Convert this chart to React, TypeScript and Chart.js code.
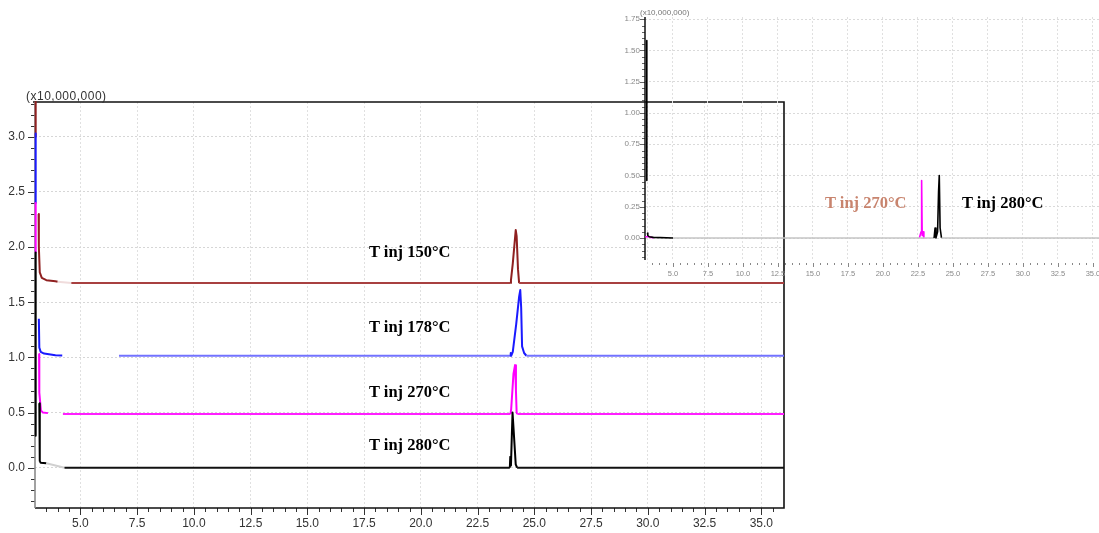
import React, { useEffect, useRef } from "react";
import { Chart, registerables } from "chart.js";

Chart.register(...registerables);

// ---------- main chart data (retention time in min, intensity in x10,000,000) ----------
const mainXTicks = [5.0, 7.5, 10.0, 12.5, 15.0, 17.5, 20.0, 22.5, 25.0, 27.5, 30.0, 32.5, 35.0];
const mainYTicks = [0.0, 0.5, 1.0, 1.5, 2.0, 2.5, 3.0];

// T inj 150 °C
const t150 = [3.03, 3.03, 3.1, 3.16, 3.17, 3.21, 3.3, 3.5, 3.9, 4.0, 4.6, 23.95, 23.97, 24.05, 24.18, 24.22, 24.28, 24.33, 36.0];
const v150 = [3.315, 3.0, null, 2.3, 2.0, 1.77, 1.72, 1.7, 1.69, 1.685, 1.674, 1.674, 1.7, 1.85, 2.155, 2.1, 1.8, 1.674, 1.674];

// T inj 178 °C
const t178 = [3.03, 3.03, 3.1, 3.17, 3.19, 3.25, 3.4, 3.9, 4.2, 5.0, 6.7, 23.93, 23.96, 23.98, 24.05, 24.2, 24.33, 24.38, 24.42, 24.46, 24.55, 24.65, 36.0];
const v178 = [3.03, 2.4, null, 1.35, 1.09, 1.05, 1.035, 1.02, 1.017, null, 1.015, 1.015, 1.04, 1.015, 1.05, 1.3, 1.55, 1.61, 1.45, 1.1, 1.04, 1.015, 1.015];

// T inj 270 °C
const t270 = [3.03, 3.03, 3.1, 3.18, 3.19, 3.26, 3.35, 3.57, 3.9, 4.23, 23.95, 23.98, 24.08, 24.15, 24.19, 24.22, 24.25, 36.0];
const v270 = [2.4, 1.95, null, 1.03, 0.68, 0.52, 0.5, 0.495, null, 0.487, 0.487, 0.53, 0.85, 0.93, 0.7, 0.5, 0.487, 0.487];

// T inj 280 °C
const t280 = [3.03, 3.03, 3.1, 3.19, 3.2, 3.22, 3.25, 3.5, 4.3, 23.92, 23.94, 23.97, 24.01, 24.04, 24.1, 24.18, 24.24, 36.0];
const v280 = [1.95, 0.29, null, 0.585, 0.22, 0.06, 0.045, 0.04, 0.0, 0.0, 0.1, 0.02, 0.3, 0.5, 0.3, 0.03, 0.0, 0.0];

// washed-out stretches of each trace, [from, to] in minutes
const faint150 = [4.0, 4.6];
const faint178 = [4.2, 6.7];
const faint270 = [3.57, 4.23];
const faint280 = [3.5, 4.3];

// ---------- inset chart data ----------
const insetXTicks = [5.0, 7.5, 10.0, 12.5, 15.0, 17.5, 20.0, 22.5, 25.0, 27.5, 30.0, 32.5, 35.0];
const insetYTicks = [0.0, 0.25, 0.5, 0.75, 1.0, 1.25, 1.5, 1.75];

const tIns280 = [3.12, 3.13, 3.15, 3.18, 3.2, 3.3, 3.6, 5.0, 23.65, 23.72, 23.78, 23.9, 23.97, 24.02, 24.08, 24.12, 24.18, 35.6];
const vIns280 = [1.58, 0.46, null, 0.04, 0.02, 0.01, 0.005, 0.0, 0.0, 0.08, 0.0, 0.05, 0.37, 0.5, 0.08, 0.08, 0.0, 0.0];

const tIns270 = [3.02, 3.3, 3.6, 10.0, 22.6, 22.72, 22.76, 22.8, 22.86, 22.92];
const vIns270 = [0.01, 0.01, 0.0, null, 0.0, 0.05, 0.46, 0.02, 0.05, 0.0];

type Pt = { x: number; y: number | null };

function series(
  t: number[],
  v: (number | null)[],
  color: string,
  baseColor: string,
  base: number,
  faint: number[],
  faintColor: string,
  width = 1.8
) {
  const data: Pt[] = t.map((x, i) => ({ x, y: v[i] }));
  return {
    data,
    showLine: true,
    pointRadius: 0,
    borderWidth: width,
    borderColor: color,
    borderJoinStyle: "round",
    borderCapStyle: "butt",
    spanGaps: false,
    clip: false,
    segment: {
      borderColor: (c: any) => {
        const x0 = c.p0.parsed.x;
        const x1 = c.p1.parsed.x;
        if (faint.length === 2 && x0 >= faint[0] - 1e-9 && x1 <= faint[1] + 1e-9) return faintColor;
        if (Math.abs(c.p0.parsed.y - base) < 1e-6 && Math.abs(c.p1.parsed.y - base) < 1e-6) return baseColor;
        return color;
      },
    },
  };
}

const sansFont = "'Liberation Sans', Arial, sans-serif";

const mainAxesPlugin = {
  id: "mainAxes",
  beforeDatasetsDraw(chart: any) {
    const { ctx, chartArea: a, scales } = chart;
    const x = scales.x;
    const y = scales.y;
    ctx.save();
    ctx.strokeStyle = "#333";
    ctx.lineWidth = 1;
    for (let k = -3; k <= 33; k++) {
      const py = Math.round(y.getPixelForValue(k / 10)) + 0.5;
      if (py < a.top || py > a.bottom) continue;
      const major = k % 5 === 0;
      ctx.beginPath();
      ctx.moveTo(a.left - (major ? 7 : 4), py);
      ctx.lineTo(a.left, py);
      ctx.stroke();
    }
    for (let k = 7; k <= 72; k++) {
      const px = Math.round(x.getPixelForValue(k / 2)) + 0.5;
      if (px < a.left || px > a.right) continue;
      const major = k % 5 === 0;
      ctx.beginPath();
      ctx.moveTo(px, a.bottom);
      ctx.lineTo(px, a.bottom + (major ? 7 : 4));
      ctx.stroke();
    }
    ctx.lineWidth = 1.6;
    ctx.strokeStyle = "#111";
    ctx.beginPath();
    ctx.moveTo(a.left - 2, a.top);
    ctx.lineTo(a.right, a.top);
    ctx.lineTo(a.right, a.bottom);
    ctx.lineTo(a.left, a.bottom);
    ctx.stroke();
    ctx.strokeStyle = "#8a8a8a";
    ctx.beginPath();
    ctx.moveTo(a.left, a.top);
    ctx.lineTo(a.left, a.bottom);
    ctx.stroke();
    ctx.restore();
  },
};

const insetAxesPlugin = {
  id: "insetAxes",
  beforeDatasetsDraw(chart: any) {
    const { ctx, chartArea: a, scales } = chart;
    const x = scales.x;
    const y = scales.y;
    ctx.save();
    ctx.strokeStyle = "#666";
    ctx.lineWidth = 1;
    for (let k = -3; k <= 35; k++) {
      const py = Math.round(y.getPixelForValue(k / 20)) + 0.5;
      if (py < a.top - 1 || py > a.bottom) continue;
      const major = k % 5 === 0;
      ctx.beginPath();
      ctx.moveTo(a.left - (major ? 5 : 3), py);
      ctx.lineTo(a.left, py);
      ctx.stroke();
    }
    ctx.fillStyle = "#888";
    for (let k = 7; k <= 71; k++) {
      const px = Math.round(x.getPixelForValue(k / 2));
      if (px < a.left || px > a.right) continue;
      const major = k % 5 === 0;
      ctx.fillRect(px, a.bottom + 3, 1, major ? 4 : 2);
    }
    ctx.strokeStyle = "#111";
    ctx.lineWidth = 1.5;
    ctx.beginPath();
    ctx.moveTo(a.left, a.top);
    ctx.lineTo(a.left, a.bottom);
    ctx.stroke();
    ctx.restore();
  },
};

function MainChart() {
  const ref = useRef<HTMLCanvasElement | null>(null);
  useEffect(() => {
    if (!ref.current) return;
    const chart = new Chart(ref.current, {
      type: "scatter",
      data: {
        datasets: [
          series(t280, v280, "#000000", "#111111", 0.0, faint280, "#d0d0d0", 2),
          series(t270, v270, "#ff00ff", "#ff1fff", 0.487, faint270, "#ffe6ff", 2),
          series(t178, v178, "#1a1aff", "#7272ff", 1.015, faint178, "#e8e8ff", 2),
          series(t150, v150, "#8f2020", "#a84040", 1.674, faint150, "#f0dcdc", 2),
        ] as any,
      },
      options: {
        animation: false,
        responsive: false,
        maintainAspectRatio: false,
        events: [],
        layout: { padding: { left: 0, top: 102, right: 315, bottom: 0 } },
        plugins: { legend: { display: false }, tooltip: { enabled: false } },
        scales: {
          x: {
            type: "linear",
            min: 3.0,
            max: 36.0,
            afterBuildTicks: (s: any) => {
              s.ticks = mainXTicks.map((v) => ({ value: v }));
            },
            afterFit: (s: any) => {
              s.height = 25;
              s.paddingLeft = 0;
              s.paddingRight = 0;
            },
            grid: { color: "#e0e0e0", lineWidth: 1, drawTicks: false },
            border: { display: false, dash: [2, 2] },
            ticks: {
              padding: 8,
              color: "#333",
              autoSkip: false,
              maxRotation: 0,
              font: { family: sansFont, size: 12 },
              callback: (v: any) => Number(v).toFixed(1),
            },
          },
          y: {
            type: "linear",
            min: -0.365,
            max: 3.315,
            afterBuildTicks: (s: any) => {
              s.ticks = mainYTicks.map((v) => ({ value: v }));
            },
            afterFit: (s: any) => {
              s.width = 35;
              s.paddingTop = 0;
              s.paddingBottom = 0;
            },
            grid: { color: "#d6d6d6", lineWidth: 1, drawTicks: false },
            border: { display: false, dash: [2, 2] },
            ticks: {
              padding: 10,
              color: "#333",
              autoSkip: false,
              font: { family: sansFont, size: 12 },
              callback: (v: any) => Number(v).toFixed(1),
            },
          },
        },
      } as any,
      plugins: [mainAxesPlugin],
    });
    return () => chart.destroy();
  }, []);
  return (
    <canvas
      ref={ref}
      width={1099}
      height={533}
      style={{ position: "absolute", left: 0, top: 0, width: 1099, height: 533 }}
    />
  );
}

function InsetChart() {
  const ref = useRef<HTMLCanvasElement | null>(null);
  useEffect(() => {
    if (!ref.current) return;
    const chart = new Chart(ref.current, {
      type: "scatter",
      data: {
        datasets: [
          {
            ...series(tIns280, vIns280, "#000000", "#c4c4c4", 0.0, [], "#c4c4c4", 1.6),
            segment: {
              borderColor: (c: any) =>
                c.p0.parsed.x >= 5.0 && c.p0.parsed.y === 0 && c.p1.parsed.y === 0 ? "#c4c4c4" : "#000000",
            },
          },
          series(tIns270, vIns270, "#ff00ff", "#ff80ff", 0.0, [], "#ff80ff", 1.6),
        ] as any,
      },
      options: {
        animation: false,
        responsive: false,
        maintainAspectRatio: false,
        events: [],
        layout: { padding: { left: 0, top: 17, right: 0, bottom: 0 } },
        plugins: { legend: { display: false }, tooltip: { enabled: false } },
        scales: {
          x: {
            type: "linear",
            min: 3.0,
            max: 35.43,
            afterBuildTicks: (s: any) => {
              s.ticks = insetXTicks.map((v) => ({ value: v }));
            },
            afterFit: (s: any) => {
              s.height = 30;
              s.paddingLeft = 0;
              s.paddingRight = 0;
            },
            grid: { color: "#e0e0e0", lineWidth: 1, drawTicks: false },
            border: { display: false, dash: [2, 2] },
            ticks: {
              padding: 9,
              color: "#888",
              autoSkip: false,
              maxRotation: 0,
              font: { family: sansFont, size: 7.5 },
              callback: (v: any) => Number(v).toFixed(1),
            },
          },
          y: {
            type: "linear",
            min: -0.176,
            max: 1.768,
            afterBuildTicks: (s: any) => {
              s.ticks = insetYTicks.map((v) => ({ value: v }));
            },
            afterFit: (s: any) => {
              s.width = 45;
              s.paddingTop = 0;
              s.paddingBottom = 0;
            },
            grid: { color: "#dadada", lineWidth: 1, drawTicks: false },
            border: { display: false, dash: [2, 2] },
            ticks: {
              padding: 5,
              color: "#888",
              autoSkip: false,
              font: { family: sansFont, size: 8 },
              callback: (v: any) => Number(v).toFixed(2),
            },
          },
        },
      } as any,
      plugins: [insetAxesPlugin],
    });
    return () => chart.destroy();
  }, []);
  return (
    <canvas
      ref={ref}
      width={499}
      height={290}
      style={{ position: "absolute", left: 600, top: 0, width: 499, height: 290 }}
    />
  );
}

const labelStyle: React.CSSProperties = {
  position: "absolute",
  fontFamily: "'Liberation Serif', 'Times New Roman', serif",
  fontWeight: "bold",
  fontSize: 16.5,
  lineHeight: "17px",
  whiteSpace: "nowrap",
};

export default function App() {
  return (
    <div
      style={{
        position: "absolute",
        left: 0,
        top: 0,
        width: 1099,
        height: 533,
        background: "#ffffff",
        overflow: "hidden",
      }}
    >
      <MainChart />
      <InsetChart />
      <div
        style={{
          position: "absolute",
          left: 26,
          top: 89,
          fontFamily: sansFont,
          fontSize: 12,
          letterSpacing: 0.5,
          color: "#333",
          lineHeight: "14px",
          whiteSpace: "nowrap",
        }}
      >
        (x10,000,000)
      </div>
      <div
        style={{
          position: "absolute",
          left: 640,
          top: 8,
          fontFamily: sansFont,
          fontSize: 8,
          color: "#777",
          lineHeight: "10px",
          whiteSpace: "nowrap",
        }}
      >
        (x10,000,000)
      </div>
      <div style={{ ...labelStyle, left: 369, top: 243, color: "#000" }}>T inj 150°C</div>
      <div style={{ ...labelStyle, left: 369, top: 318, color: "#000" }}>T inj 178°C</div>
      <div style={{ ...labelStyle, left: 369, top: 383, color: "#000" }}>T inj 270°C</div>
      <div style={{ ...labelStyle, left: 369, top: 436, color: "#000" }}>T inj 280°C</div>
      <div style={{ ...labelStyle, left: 825, top: 194, color: "#c8846e" }}>T inj 270°C</div>
      <div style={{ ...labelStyle, left: 962, top: 194, color: "#000" }}>T inj 280°C</div>
    </div>
  );
}
